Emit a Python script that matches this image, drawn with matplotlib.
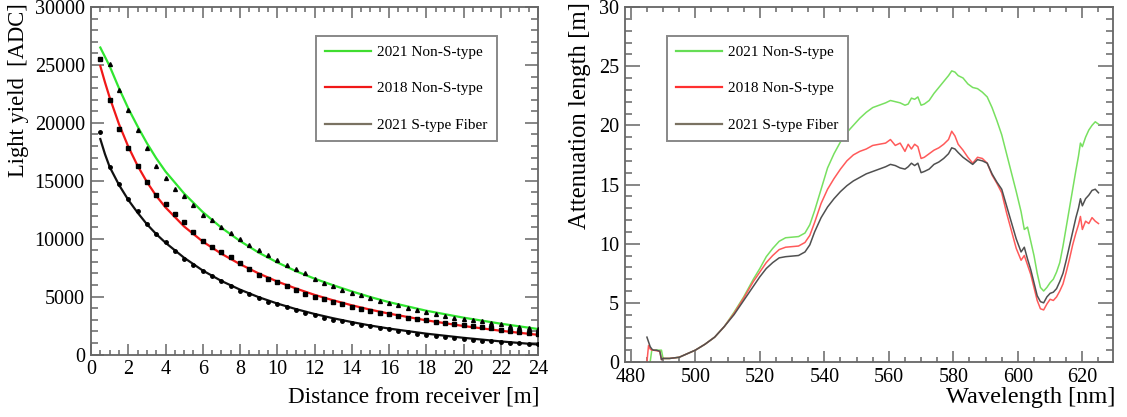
import numpy as np
import matplotlib
matplotlib.use("Agg")
import matplotlib.pyplot as plt
from matplotlib.lines import Line2D
from matplotlib.ticker import MultipleLocator

plt.rcParams['font.family'] = ['Liberation Serif', 'DejaVu Serif']

# ---------------- Left panel data: light yield vs distance ----------------
dist_pts = [0.5, 1.0, 1.5, 2.0, 2.5, 3.0, 3.5, 4.0, 4.5, 5.0, 5.5, 6.0,
            6.5, 7.0, 7.5, 8.0, 8.5, 9.0, 9.5, 10.0, 10.5, 11.0, 11.5, 12.0,
            12.5, 13.0, 13.5, 14.0, 14.5, 15.0, 15.5, 16.0, 16.5, 17.0, 17.5, 18.0,
            18.5, 19.0, 19.5, 20.0, 20.5, 21.0, 21.5, 22.0, 22.5, 23.0, 23.5, 24.0]

# 2021 Non-S-type (triangles), no point at 0.5
ly_2021_nons = [np.nan, 25100, 22800, 21100, 19350, 17850, 16300, 15250, 14300, 13700, 12900, 12080,
                11600, 11000, 10450, 9970, 9460, 9000, 8550, 8150, 7750, 7410, 7040, 6560,
                6180, 5900, 5610, 5330, 5130, 4900, 4615, 4420, 4250, 4030, 3850, 3680,
                3480, 3330, 3190, 3100, 2960, 2850, 2730, 2600, 2500, 2400, 2310, 2230]
# 2018 Non-S-type (squares)
ly_2018_nons = [25500, 21950, 19500, 17800, 16250, 14900, 13800, 12950, 12100, 11400, 10600, 9800,
                9320, 8830, 8380, 7860, 7350, 6900, 6520, 6240, 5900, 5580, 5190, 4960,
                4760, 4530, 4330, 4100, 3900, 3760, 3590, 3460, 3330, 3190, 3060, 2960,
                2840, 2730, 2620, 2530, 2430, 2340, 2250, 2150, 2050, 1950, 1850, 1750]
# 2021 S-type fiber (dots)
ly_2021_s = [19250, 16150, 14750, 13450, 12400, 11280, 10400, 9700, 8950, 8270, 7700, 7190,
             6810, 6330, 5900, 5480, 5190, 4900, 4570, 4330, 4100, 3830, 3540, 3370,
             3190, 3020, 2850, 2690, 2540, 2430, 2290, 2170, 2050, 1930, 1810, 1720,
             1630, 1540, 1440, 1350, 1260, 1200, 1140, 1090, 1030, 990, 940, 900]

# fitted curves
dist_fit = [0.5, 0.75, 1, 1.5, 2, 2.5, 3, 3.5, 4, 5, 6, 7, 8, 9, 10, 11, 12, 13, 14, 15, 16, 18, 20, 22, 24]
fit_2021_nons = [26500, 25700, 24900, 23000, 21250, 19700, 18250, 16950, 15800, 13900, 12300, 10950,
                 9800, 8800, 7950, 7200, 6550, 5980, 5450, 4960, 4520, 3780, 3180, 2660, 2200]
fit_2018_nons = [24900, 23500, 22200, 19900, 17950, 16300, 14900, 13700, 12700, 11050, 9750, 8700,
                 7800, 7000, 6300, 5700, 5150, 4680, 4250, 3870, 3530, 2950, 2460, 2050, 1700]
fit_2021_s = [18600, 17300, 16200, 14650, 13350, 12250, 11250, 10400, 9650, 8350, 7250, 6350,
              5600, 4950, 4400, 3920, 3500, 3130, 2800, 2500, 2240, 1800, 1440, 1130, 860]

# ---------------- Right panel data: attenuation length vs wavelength ----------------
wavelength = [485, 485.5, 486, 486.5, 487, 488, 489, 489.5, 490,
              492, 495, 500, 503, 506, 509, 512, 515, 518, 520,
              522, 524, 526, 528, 530, 532, 534, 535.5, 537, 539,
              541, 543, 545, 547, 549, 551, 553, 555, 557, 559,
              560.5, 562, 563.5, 565, 566, 567, 568, 569, 570, 571,
              572.5, 574, 575.5, 577, 578.5, 579.5, 580.5, 581.5, 583, 584.5,
              586, 587.5, 589, 590.5, 592, 593.5, 595, 596.5, 598, 599.5,
              601, 602, 603, 604, 605, 606, 607, 608, 609, 610,
              611, 612, 613, 614, 615, 616, 617, 618, 618.8, 619.4,
              620, 621, 622, 623, 624, 625]

att_2021_nons = [np.nan, np.nan, 0.0, 1.0, 1.0, 1.0, 1.0, 1.0, 0.3,
                 0.3, 0.4, 1.0, 1.5, 2.1, 3.0, 4.2, 5.5, 7.0, 7.9,
                 8.9, 9.6, 10.2, 10.5, 10.55, 10.6, 10.9, 11.6, 12.8, 14.6,
                 16.4, 17.6, 18.6, 19.4, 20.0, 20.6, 21.1, 21.5, 21.7, 21.9,
                 22.1, 22.0, 21.9, 21.7, 21.8, 22.3, 22.2, 22.4, 21.7, 21.8,
                 22.1, 22.7, 23.2, 23.7, 24.2, 24.6, 24.5, 24.2, 24.0, 23.5,
                 23.2, 23.1, 22.8, 22.4, 21.5, 20.4, 19.2, 17.6, 16.0, 14.4,
                 12.7, 11.2, 11.4, 10.2, 9.0, 7.5, 6.3, 6.0, 6.3, 6.7,
                 7.0, 7.6, 8.4, 9.8, 11.4, 13.0, 14.6, 16.2, 17.4, 18.5,
                 18.2, 19.0, 19.6, 20.0, 20.3, 20.1]

att_2018_nons = [0.0, 1.4, 1.1, 1.0, 1.0, 0.95, 0.9, 0.2, 0.3,
                 0.3, 0.4, 1.0, 1.5, 2.1, 3.0, 4.1, 5.4, 6.8, 7.6,
                 8.4, 9.0, 9.5, 9.7, 9.75, 9.8, 10.1, 10.7, 11.8, 13.4,
                 14.6, 15.5, 16.3, 17.0, 17.5, 17.8, 18.0, 18.3, 18.4, 18.5,
                 18.8, 18.3, 18.5, 17.8, 18.4, 18.0, 18.4, 18.2, 17.2, 17.3,
                 17.6, 17.9, 18.1, 18.4, 18.8, 19.5, 19.1, 18.4, 17.9, 17.3,
                 16.8, 17.3, 17.2, 16.8, 15.8, 15.1, 14.3, 12.6, 11.1, 9.6,
                 8.6, 9.0, 8.2, 7.4, 6.3, 5.2, 4.5, 4.4, 4.9, 5.3,
                 5.2, 5.5, 6.0, 6.6, 7.6, 8.7, 9.9, 10.9, 11.6, 12.3,
                 11.2, 11.9, 11.7, 12.2, 11.9, 11.7]

att_2021_s = [2.1, 1.7, 1.3, 1.1, 1.0, 1.0, 0.9, 0.2, 0.3,
              0.3, 0.4, 1.0, 1.5, 2.1, 3.0, 4.0, 5.2, 6.4, 7.2,
              7.9, 8.4, 8.8, 8.9, 8.95, 9.0, 9.3, 9.9, 11.0, 12.2,
              13.1, 13.8, 14.4, 14.9, 15.3, 15.6, 15.9, 16.1, 16.3, 16.5,
              16.7, 16.6, 16.4, 16.3, 16.5, 16.8, 16.6, 16.8, 16.0, 16.1,
              16.3, 16.7, 16.9, 17.2, 17.6, 18.1, 18.0, 17.7, 17.3, 17.0,
              16.7, 17.1, 17.0, 16.8, 15.9, 15.2, 14.6, 13.2, 11.8, 10.4,
              9.3, 9.7, 8.7, 7.8, 6.7, 5.6, 5.1, 5.0, 5.5, 5.8,
              5.9, 6.2, 6.8, 7.5, 8.6, 9.8, 11.0, 12.2, 13.0, 13.8,
              13.2, 13.8, 14.1, 14.5, 14.6, 14.3]

labels = ["2021 Non-S-type", "2018 Non-S-type", "2021 S-type Fiber"]

# ---------------- Figure ----------------
W, H = 1127, 417
fig = plt.figure(figsize=(W / 100, H / 100), dpi=100)

def px_axes(x0, x1, ytop, ybot):
    return fig.add_axes([x0 / W, 1 - ybot / H, (x1 - x0) / W, (ybot - ytop) / H])

axL = px_axes(91, 538, 7, 354.5)
axR = px_axes(625, 1113, 7, 362)

frame_col = '#666666'
for ax in (axL, axR):
    for s in ax.spines.values():
        s.set_color(frame_col)
        s.set_linewidth(1.3)
    ax.tick_params(which='both', direction='in', top=True, right=True,
                   colors=frame_col, labelcolor='black', labelsize=14.5, width=1.1)

# ---- left ----
axL.plot(dist_fit, fit_2021_nons, color='#30e630', lw=1.6, zorder=2)
axL.plot(dist_fit, fit_2018_nons, color='#f01818', lw=1.6, zorder=2)
axL.plot(dist_fit, fit_2021_s, color='#111111', lw=1.6, zorder=2)
axL.plot(dist_pts, ly_2021_nons, ls='none', marker='^', ms=2.8, color='black', zorder=3)
axL.plot(dist_pts, ly_2018_nons, ls='none', marker='s', ms=2.7, color='black', zorder=3)
axL.plot(dist_pts, ly_2021_s, ls='none', marker='o', ms=2.5, color='black', zorder=3)
axL.set_xlim(0, 24)
axL.set_ylim(0, 30000)
axL.xaxis.set_major_locator(MultipleLocator(2))
axL.xaxis.set_minor_locator(MultipleLocator(0.5))
axL.yaxis.set_major_locator(MultipleLocator(5000))
axL.yaxis.set_minor_locator(MultipleLocator(1000))
axL.tick_params(axis='y', which='major', length=9.7, pad=4.5)
axL.tick_params(axis='y', which='minor', length=4.8)
axL.tick_params(axis='x', which='major', length=7.6, pad=4.0)
axL.tick_params(axis='x', which='minor', length=3.8)
axL.set_xlabel("Distance from receiver [m]", fontsize=16.7, loc='right')
axL.xaxis.set_label_coords(1.004, -0.122)
axL.xaxis.label.set_verticalalignment('center')
axL.set_ylabel("Light yield  [ADC]", fontsize=16.3, loc='top')
axL.yaxis.set_label_coords(-0.163, 1.01)
axL.yaxis.label.set_verticalalignment('center')

hL = [Line2D([], [], color='#40dd30', lw=1.6),
      Line2D([], [], color='#f01818', lw=1.6),
      Line2D([], [], color='#7a7262', lw=1.6)]
legL = axL.legend(hL, labels, loc='upper left', bbox_to_anchor=(316 / W, 1 - 36 / H),
                  bbox_transform=fig.transFigure, borderaxespad=0, fontsize=11,
                  handlelength=3.0, handletextpad=0.4, borderpad=0.6, labelspacing=1.5,
                  fancybox=False, framealpha=1, edgecolor='#888888')
legL.get_frame().set_linewidth(1.4)

# ---- right ----
axR.plot(wavelength, att_2021_nons, color='#78e060', lw=1.1)
axR.plot(wavelength, att_2018_nons, color='#ff5a5a', lw=1.1)
axR.plot(wavelength, att_2021_s, color='#505050', lw=1.1)
axR.set_xlim(478.2, 629.5)
axR.set_ylim(0, 30)
axR.xaxis.set_major_locator(MultipleLocator(20))
axR.xaxis.set_minor_locator(MultipleLocator(5))
axR.yaxis.set_major_locator(MultipleLocator(5))
axR.yaxis.set_minor_locator(MultipleLocator(1))
axR.tick_params(axis='y', which='major', length=10.5, pad=4.3)
axR.tick_params(axis='y', which='minor', length=5.2)
axR.tick_params(axis='x', which='major', length=7.7, pad=4.3)
axR.tick_params(axis='x', which='minor', length=3.9)
axR.set_xlabel("Wavelength [nm]", fontsize=17.6, loc='right')
axR.xaxis.set_label_coords(1.004, -0.1006)
axR.xaxis.label.set_verticalalignment('center')
axR.set_ylabel("Attenuation length [m]", fontsize=17.8, loc='top')
axR.yaxis.set_label_coords(-0.092, 1.013)
axR.yaxis.label.set_verticalalignment('center')

hR = [Line2D([], [], color='#66dd55', lw=1.6),
      Line2D([], [], color='#ff3030', lw=1.6),
      Line2D([], [], color='#7a7262', lw=1.6)]
legR = axR.legend(hR, labels, loc='upper left', bbox_to_anchor=(667 / W, 1 - 36 / H),
                  bbox_transform=fig.transFigure, borderaxespad=0, fontsize=11,
                  handlelength=3.0, handletextpad=0.4, borderpad=0.6, labelspacing=1.5,
                  fancybox=False, framealpha=1, edgecolor='#888888')
legR.get_frame().set_linewidth(1.4)

fig.savefig("out.png", dpi=100)
